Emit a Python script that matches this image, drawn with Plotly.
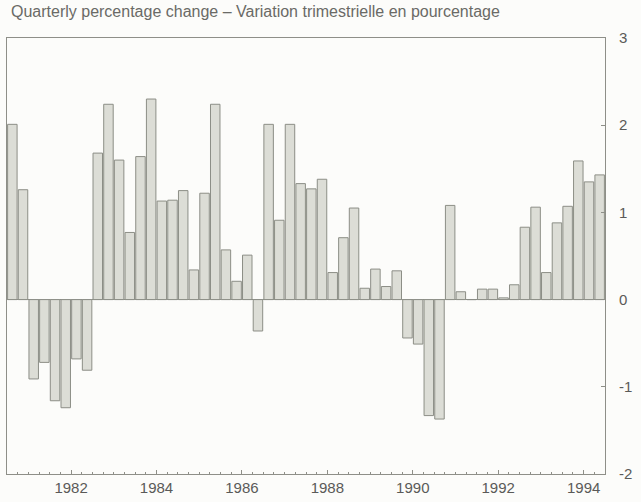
import plotly.graph_objects as go

start_year = 1981
# quarterly percentage change, 1981Q1 .. 1994Q4
values = [
    2.01, 1.26, -0.91, -0.72, -1.16, -1.24, -0.68, -0.81,   # 1981-1982
    1.68, 2.24, 1.60, 0.77, 1.64, 2.30, 1.13, 1.14,         # 1983-1984
    1.25, 0.34, 1.22, 2.24, 0.57, 0.21, 0.51, -0.36,        # 1985-1986
    2.01, 0.91, 2.01, 1.33, 1.27, 1.38, 0.31, 0.71,         # 1987-1988
    1.05, 0.13, 0.35, 0.15, 0.33, -0.44, -0.51, -1.33,      # 1989-1990
    -1.37, 1.08, 0.09, 0.00, 0.12, 0.12, 0.02, 0.17,        # 1991-1992
    0.83, 1.06, 0.31, 0.88, 1.07, 1.59, 1.35, 1.43,         # 1993-1994
]
year_ticks = [1982, 1984, 1986, 1988, 1990, 1992, 1994]
y_ticks = [3, 2, 1, 0, -1, -2]
y_tick_text = ["3", "2", "1", "0", "-1", "-2"]
title_text = "Quarterly percentage change – Variation trimestrielle en pourcentage"

# centre of each quarter in fractional years
x = [start_year + i / 4 + 0.125 for i in range(len(values))]

axis_col = "#8e8f88"
text_col = "#5a5a58"

fig = go.Figure(go.Bar(
    x=x, y=values, width=0.222,
    marker=dict(color="#dcddd6", line=dict(color="#8c8e86", width=1)),
))

fig.update_layout(
    width=641, height=502,
    margin=dict(l=6, r=36, t=38, b=23),
    paper_bgcolor="#fcfcfa", plot_bgcolor="#fcfcfa",
    showlegend=False,
    font=dict(family="Liberation Sans, Arial, sans-serif", color=text_col),
    annotations=[dict(
        text=title_text, x=0, xref="paper", xanchor="left", xshift=2,
        y=1, yref="paper", yanchor="bottom", yshift=16,
        showarrow=False, font=dict(size=16, color="#6a6a66"),
    )],
)

fig.update_xaxes(
    range=[start_year, start_year + len(values) / 4],
    tickvals=[yr + 0.5 for yr in year_ticks],
    ticktext=[str(yr) for yr in year_ticks],
    ticks="inside", ticklen=4, tickcolor=axis_col,
    minor=dict(ticks="inside", ticklen=2, dtick=0.25, tick0=start_year, tickcolor=axis_col),
    showgrid=False, zeroline=False,
    showline=True, linecolor=axis_col, linewidth=1, mirror=True,
    tickfont=dict(size=15, color=text_col),
)
fig.update_yaxes(
    range=[-2, 3], side="right",
    tickvals=y_ticks, ticktext=y_tick_text,
    ticks="inside", ticklen=4, tickcolor=axis_col,
    ticklabelstandoff=10,
    showgrid=False,
    zeroline=True, zerolinecolor="#8c8e86", zerolinewidth=1,
    showline=True, linecolor=axis_col, linewidth=1, mirror=True,
    tickfont=dict(size=15, color=text_col),
)

fig.write_html("out.html", config={"displayModeBar": False},
               post_script="document.body.style.margin='0';")
